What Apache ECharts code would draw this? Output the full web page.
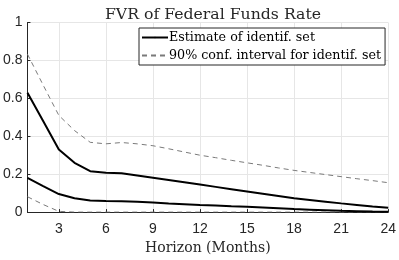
<!DOCTYPE html>
<html><head><meta charset="utf-8">
<script src="https://cdn.jsdelivr.net/npm/echarts@6/dist/echarts.min.js"></script>
<style>html,body{margin:0;padding:0;background:#fff}#c{width:399px;height:260px}</style>
</head><body><div id="c"></div>
<script>
const horizons = [1,2,3,4,5,6,7,8,9,10,11,12,13,14,15,16,17,18,19,20,21,22,23,24];
const xTicks = [3,6,9,12,15,18,21,24];
const yTicks = [0,0.2,0.4,0.6,0.8,1];
const upperEst = [0.63,0.48,0.33,0.26,0.216,0.207,0.205,0.193,0.181,0.169,0.157,0.145,0.133,0.121,0.109,0.097,0.085,0.073,0.064,0.055,0.046,0.038,0.030,0.023];
const lowerEst = [0.18,0.137,0.095,0.073,0.061,0.058,0.057,0.054,0.051,0.046,0.042,0.038,0.035,0.031,0.028,0.024,0.020,0.016,0.013,0.010,0.007,0.005,0.003,0.002];
const upperCI = [0.833,0.67,0.51,0.43,0.368,0.36,0.367,0.36,0.35,0.334,0.317,0.30,0.287,0.273,0.26,0.247,0.233,0.22,0.209,0.198,0.187,0.176,0.166,0.155];
const lowerCI = [0.081,0.04,0.004,0,0,0,0,0,0,0,0,0,0,0,0,0,0,0,0,0,0,0,0,0];
const estName = 'Estimate of identif. set';
const ciName = '90% conf. interval for identif. set';

const pair = arr => horizons.map((h,i)=>[h,arr[i]]);
const serif = 'DejaVu Serif';
const chart = echarts.init(document.getElementById('c'));
const solid = {color:'#000', width:2};
const dashed = {color:'#7a7a7a', width:1, type:[5,4]};
chart.setOption({
  animation:false,
  title:{text:'FVR of Federal Funds Rate', left:208, textAlign:'center', top:2,
    textStyle:{fontFamily:serif, fontWeight:'normal', fontSize:15.7, color:'#262626'}},
  legend:{left:139, top:28, orient:'vertical', itemWidth:26, itemHeight:2, itemGap:5,
    padding:[3,4,3,2], borderColor:'#262626', borderWidth:1, backgroundColor:'#fff',
    data:[{name:estName},{name:ciName}],
    textStyle:{fontFamily:serif, fontSize:12.7, color:'#000', padding:[0,0,0,-4]}},
  grid:{left:25, right:8, top:22.5, bottom:42.5, containLabel:false},
  xAxis:{type:'value', min:1, max:24,
    name:'Horizon (Months)', nameLocation:'middle', nameGap:27,
    nameTextStyle:{fontFamily:serif, fontSize:14, color:'#262626'},
    axisLine:{lineStyle:{color:'#262626', width:1}},
    axisTick:{inside:true, length:3, customValues:xTicks, lineStyle:{color:'#262626'}},
    axisLabel:{customValues:xTicks, fontFamily:'Liberation Sans', fontSize:14, color:'#262626', margin:10},
    splitLine:{show:true, lineStyle:{color:'#e6e6e6', width:1}}},
  yAxis:{type:'value', min:0, max:1, interval:0.2,
    axisLine:{show:true, lineStyle:{color:'#262626', width:1}},
    axisTick:{show:true, inside:true, length:3, lineStyle:{color:'#262626'}},
    axisLabel:{fontFamily:'Liberation Sans', fontSize:14, color:'#262626', margin:5,
      formatter:v=>String(+v.toFixed(1))},
    splitLine:{show:true, lineStyle:{color:'#e6e6e6', width:1}}},
  series:[
    {name:estName, type:'line', data:pair(upperEst), symbol:'none', lineStyle:solid, itemStyle:{color:'#000'}, z:3},
    {name:ciName, type:'line', data:pair(upperCI), symbol:'none', lineStyle:dashed, itemStyle:{color:'#7a7a7a'}, z:2},
    {name:estName, type:'line', data:pair(lowerEst), symbol:'none', lineStyle:solid, itemStyle:{color:'#000'}, z:3},
    {name:ciName, type:'line', data:pair(lowerCI), symbol:'none', lineStyle:dashed, itemStyle:{color:'#7a7a7a'}, z:2}
  ]
});
</script></body></html>
